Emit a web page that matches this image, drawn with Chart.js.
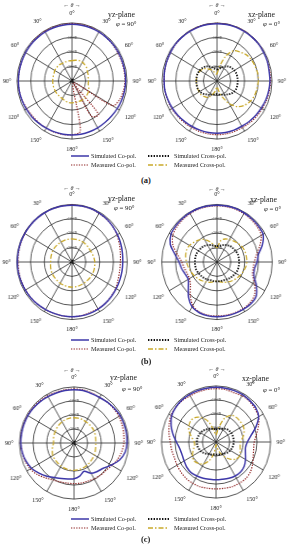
<!DOCTYPE html>
<html lang="en">
<head>
<meta charset="UTF-8" />
<title>Radiation patterns</title>
<script src="https://cdn.jsdelivr.net/npm/chart.js"></script>
<style>
  body { margin: 0; width: 296px; height: 550px; background: #fff; position: relative; overflow: hidden;
         font-family: 'Liberation Serif', 'Times New Roman', serif; color: #222; }
  canvas { position: absolute; }
  .t { position: absolute; white-space: nowrap; line-height: 1; }
  .arr { font-size: 6px; transform: translateX(-50%); }
  .pl { font-size: 7.8px; }
  .phi { font-size: 6.8px; }
  .lg { font-size: 6.2px; }
  .cap { font-size: 8.5px; font-weight: bold; }
  svg { position: absolute; }
</style>
</head>
<body>
<canvas id="aYz" width="150" height="150"></canvas>
<canvas id="aXz" width="150" height="150"></canvas>
<canvas id="bYz" width="150" height="150"></canvas>
<canvas id="bXz" width="150" height="150"></canvas>
<canvas id="cYz" width="148" height="148"></canvas>
<canvas id="cXz" width="148" height="148"></canvas>

<script>
// theta every 10 deg, clockwise from the top (0 deg)
const thetaLabels = ['0°','','','30°','','','60°','','','90°','','','120°','','','150°','','',
                     '180°','','','150°','','','120°','','','90°','','','60°','','','30°','',''];
const seriesNames = ['Simulated Co-pol.', 'Measured Co-pol.', 'Simulated Cross-pol.', 'Measured Cross-pol.'];
const dbTicks = [-40, -30, -20, -10, 0];

// (a)
const aYzSimCo = [-1,-1,-1,-1,-1,-1,-1,-1,-1,-1,-1.2,-1.5,-2,-2.5,-2.7,-2.8,-2.8,-2.8,-2.8,-2.8,-2.7,-2.5,-2.2,-1.8,-1.5,-1.2,-1,-1,-1,-1,-1,-1,-1,-1,-1,-1];
const aYzMeaCo = [-0.5,-0.5,-0.5,-1,-1,-1.2,-1.5,-1.5,-1.5,-1.5,-2,-3,-6,-38,-10,-12,-38,-5,-3,-2.5,-2.5,-2.5,-2.5,-2.5,-2,-1.5,-1,-1,-1,-1,-1,-0.8,-0.5,-0.5,-0.5,-0.5];
const aYzSimX  = [-39,-39,-39,-39,-39,-39,-39,-39,-39,-39,-39,-39,-39,-39,-39,-39,-39,-39,-39,-39,-39,-39,-39,-39,-39,-39,-39,-39,-39,-39,-39,-39,-39,-39,-39,-39];
const aYzMeaX  = [-26,-25.5,-25,-25,-25.5,-26,-27,-27.5,-28,-28,-28,-27,-26,-25.5,-25,-25,-25,-25,-25,-25,-25.5,-26,-26,-26,-26,-26,-26,-26,-26,-26,-25.5,-25.5,-25.5,-26,-26,-26];
const aXzSimCo = [-0.5,-0.5,-0.5,-0.5,-0.5,-0.5,-0.8,-1,-1.5,-1.5,-1.8,-2.2,-2.8,-3.2,-3.6,-4,-4,-4,-4,-4,-4,-3.8,-3.5,-3,-2.5,-2,-1.5,-1.5,-1.2,-1,-0.8,-0.5,-0.5,-0.5,-0.5,-0.5];
const aXzMeaCo = [-0.3,-0.3,-0.3,-0.3,-0.5,-0.5,-0.7,-1,-1,-1,-1.3,-1.6,-2,-2.3,-2.6,-3,-3,-3,-3,-3,-3,-3,-2.8,-2.5,-2,-1.8,-1.5,-1.5,-1.3,-1.1,-1,-0.7,-0.5,-0.4,-0.3,-0.3];
const aXzSimX  = [-32,-31.5,-30,-28.5,-27,-26,-25.5,-25,-25,-25,-25,-25,-25.5,-26.5,-28,-29,-30,-30.5,-31,-30.5,-30,-29,-28,-26.5,-25.5,-25,-25,-25,-25,-25,-25.5,-26,-27,-28.5,-30,-31.5];
const aXzMeaX  = [-35,-30,-22,-16,-14,-12,-11,-10.5,-10,-10,-10.5,-11,-12,-14,-17,-22,-28,-33,-36,-33,-30,-27,-26,-25,-25,-25,-25,-25,-25,-25,-26,-27,-29,-31,-33,-35];

// (b)
const bYzSimCo = [-0.5,-0.5,-0.5,-0.8,-1,-1.5,-2,-2.5,-3,-3.3,-3.3,-3.2,-3,-2.8,-2.5,-2.2,-2,-2,-2,-2,-2,-1.8,-1.5,-1.2,-1,-0.8,-0.5,-0.5,-0.5,-0.5,-0.5,-0.5,-0.5,-0.5,-0.5,-0.5];
const bYzMeaCo = [-0.5,-0.5,-0.7,-1,-1.2,-1.5,-2.5,-3.5,-4.5,-5,-5,-4.5,-3.5,-3,-2.5,-2.5,-2.5,-2.2,-2,-2,-2,-1.8,-1.5,-1.3,-1.2,-1,-1,-1,-0.8,-0.7,-0.6,-0.5,-0.5,-0.5,-0.5,-0.5];
const bYzSimX  = [-39,-39,-39,-39,-39,-39,-39,-39,-39,-39,-39,-39,-39,-39,-39,-39,-39,-39,-39,-39,-39,-39,-39,-39,-39,-39,-39,-39,-39,-39,-39,-39,-39,-39,-39,-39];
const bYzMeaX  = [-24,-24,-24,-24,-24.2,-24.4,-24.5,-24.2,-23.8,-23.5,-23.3,-23.1,-23,-23,-23,-23,-22.8,-22.6,-22.5,-22.6,-22.8,-23,-23.2,-23.4,-23.5,-23.8,-24.2,-24.5,-24.4,-24.2,-24,-24,-24,-24,-24,-24];
const bXzSimCo = [-0.5,-0.5,-0.5,-0.7,-0.8,-1,-1.5,-5,-9.5,-11,-12.5,-11.5,-7,-3,-2,-2,-2,-2,-2,-2,-2.5,-4,-8,-13,-16,-15.5,-14,-12.5,-9,-4,-1.5,-1,-0.8,-0.6,-0.5,-0.5];
const bXzMeaCo = [-1,-1,-1,-1.2,-1.5,-2,-3,-7,-11,-13,-13.5,-12.5,-8.5,-4.5,-3,-2.5,-2.5,-2.5,-2.5,-2.5,-3,-5,-10,-15,-17,-17,-16,-14.5,-11,-6,-3,-2,-1.5,-1.2,-1,-1];
const bXzSimX  = [-29,-28.5,-27.5,-26.5,-25.5,-25,-24.5,-24,-24,-24,-24,-24,-24.5,-25,-25.5,-26,-26.5,-26.5,-26.5,-26.5,-26.5,-26,-25.5,-25,-24.5,-24,-24,-24,-24,-24,-24.5,-25,-25.5,-26.5,-27.5,-28.5];
const bXzMeaX  = [-30,-25,-23,-22,-21,-20,-19,-18.5,-18.5,-18.5,-19,-20,-21,-22,-23,-24,-25,-26,-27,-26,-25,-24,-23,-22,-21,-20,-19,-18,-17,-16.5,-17,-18.5,-20,-22,-25,-28];

// (c)
const cYzSimCo = [-2,-2,-2.5,-2.5,-2,-1.5,-1,-1,-1,-1.2,-2,-4.5,-8.5,-12,-13.5,-15,-18.5,-16,-14.5,-14,-13,-11.5,-9,-6.5,-4,-2.5,-1.5,-1,-1,-1,-1,-1.2,-1.5,-1.8,-2,-2];
const cYzMeaCo = [-1.5,-1.5,-2,-2.5,-2,-2,-2,-2.5,-3,-3.5,-4.5,-6,-8,-9.5,-10,-10.5,-11,-11,-11,-11,-10.5,-9.5,-7.5,-5,-3,-2,-1.5,-1,-0.8,-0.8,-0.8,-0.8,-1,-1.2,-1.5,-1.5];
const cYzSimX  = [-39,-39,-39,-39,-39,-39,-39,-39,-39,-39,-39,-39,-39,-39,-39,-39,-39,-39,-39,-39,-39,-39,-39,-39,-39,-39,-39,-39,-39,-39,-39,-39,-39,-39,-39,-39];
const cYzMeaX  = [-22,-22,-22.2,-22.5,-22.7,-22.8,-23,-23.4,-23.8,-24,-23.8,-23.4,-23,-22.5,-22,-21.5,-21,-20.7,-20.5,-20.6,-20.8,-21,-21.4,-21.7,-22,-23,-24,-25,-24.7,-24.3,-24,-23.5,-23,-22.5,-22.2,-22];
const cXzSimCo = [-1,-1,-1,-1,-1.5,-2,-4,-9,-14,-17,-18,-17,-15,-13,-12,-12,-12.5,-13,-13,-13,-12.5,-12,-11.5,-12,-13,-13.5,-13,-11,-8,-5,-2.5,-1.5,-1,-1,-1,-1];
const cXzMeaCo = [-2,-2,-2.5,-2,-2,-3,-4,-7,-10,-12,-12,-11,-9,-7,-6,-6,-6,-6.5,-6.5,-6.5,-6,-6,-6,-6.5,-7,-7.5,-7,-6.5,-5,-3.5,-2,-1.5,-1.5,-2,-2,-2];
const cXzSimX  = [-31,-30.5,-30,-29,-28,-27.5,-27,-27,-27,-27,-27.2,-27.5,-28,-28.5,-29.5,-30,-30.5,-31,-31,-31,-30.5,-30,-29,-28,-27,-26.5,-26,-26,-26,-26.5,-27,-27.5,-28.5,-29,-30,-30.5];
const cXzMeaX  = [-35,-30,-22,-18,-17,-17,-17,-18,-20,-22,-22,-21,-20,-21,-24,-28,-32,-36,-38,-32,-26,-22,-20,-19,-20,-22,-24,-24,-22,-19,-17,-16,-17,-20,-25,-32];

const BLUE = '#3d37a8', RED = '#8e2222', BLACK = '#111', OLIVE = '#c9a92a';
const SERIF = "'Liberation Serif', 'Times New Roman', serif";
const styles = [
  { borderColor: BLUE,  borderWidth: 1.5, borderDash: [] },
  { borderColor: RED,   borderWidth: 1.2, borderDash: [1.3, 1.3] },
  { borderColor: BLACK, borderWidth: 1.9, borderDash: [1.4, 1.4] },
  { borderColor: OLIVE, borderWidth: 1.3, borderDash: [5, 2, 1.5, 2] }
];

// the printed figure is a bit squeezed sideways, sx is that squeeze
function polar(id, cx, cy, pad, sx, series) {
  const el = document.getElementById(id);
  const w = el.width * sx;
  el.style.width = w + 'px';
  el.style.height = el.height + 'px';
  el.style.left = (cx - w / 2) + 'px';
  el.style.top = (cy - el.height / 2) + 'px';
  new Chart(el, {
    type: 'radar',
    data: {
      labels: thetaLabels,
      datasets: series.map((d, i) => Object.assign({ label: seriesNames[i], data: d, fill: false }, styles[i]))
    },
    options: {
      responsive: false,
      animation: false,
      layout: { padding: pad },
      elements: { point: { radius: 0, hoverRadius: 0 }, line: { tension: 0.3 } },
      plugins: { legend: { display: false }, tooltip: { enabled: false } },
      scales: {
        r: {
          min: dbTicks[0], max: dbTicks[dbTicks.length - 1],
          ticks: {
            stepSize: 10, showLabelBackdrop: false, color: '#555',
            font: { family: SERIF, size: 4.5 },
            callback: v => (v === 0 || v === -40) ? '' : v + 'dB'
          },
          grid: { circular: true, color: '#2a2a2a', lineWidth: 0.8 },
          angleLines: { color: '#2a2a2a', lineWidth: c => c.index % 3 === 0 ? 0.8 : 0 },
          pointLabels: { padding: 2, color: '#222', font: { family: SERIF, size: 6.2 } }
        }
      }
    }
  });
}

polar('aYz', 72, 81, 2, 0.95, [aYzSimCo, aYzMeaCo, aYzSimX, aYzMeaX]);
polar('aXz', 217, 81, 2, 0.95, [aXzSimCo, aXzMeaCo, aXzSimX, aXzMeaX]);
polar('bYz', 72, 262, 2.5, 0.96, [bYzSimCo, bYzMeaCo, bYzSimX, bYzMeaX]);
polar('bXz', 217, 262, 2.5, 0.96, [bXzSimCo, bXzMeaCo, bXzSimX, bXzMeaX]);
polar('cYz', 74, 443, 3, 0.97, [cYzSimCo, cYzMeaCo, cYzSimX, cYzMeaX]);
polar('cXz', 216, 442, 3, 0.97, [cXzSimCo, cXzMeaCo, cXzSimX, cXzMeaX]);

// text around the plots
function txt(cls, x, y, html) {
  const d = document.createElement('div');
  d.className = 't ' + cls;
  d.style.left = x + 'px';
  d.style.top = y + 'px';
  d.innerHTML = html;
  document.body.appendChild(d);
}
const arrows = '&larr;&thinsp;<i>&theta;</i>&thinsp;&rarr;';
const rows = [
  { th: [2, 2],     pl: [[108, 11], [248, 11]],   ph: [[116, 21], [263, 21]],   lg: 156, cap: ['(a)', 176] },
  { th: [185, 186], pl: [[108, 195], [250, 196]], ph: [[114, 205], [264, 206]], lg: 340, cap: ['(b)', 357] },
  { th: [367, 366], pl: [[110, 374], [242, 375]], ph: [[122, 386], [263, 387]], lg: 519, cap: ['(c)', 535] }
];
rows.forEach(r => {
  txt('arr', 72, r.th[0], arrows);
  txt('arr', 217, r.th[1], arrows);
  txt('pl', r.pl[0][0], r.pl[0][1], 'yz-plane');
  txt('pl', r.pl[1][0], r.pl[1][1], 'xz-plane');
  txt('phi', r.ph[0][0], r.ph[0][1], '<i>&phi;</i> = 90°');
  txt('phi', r.ph[1][0], r.ph[1][1], '<i>&phi;</i> = 0°');
  txt('cap', 141, r.cap[1], r.cap[0]);
  // legend: 2 x 2
  const spots = [[71, 18, 91, r.lg], [71, 18, 91, r.lg + 9], [148, 21, 174, r.lg], [148, 21, 174, r.lg + 9]];
  spots.forEach(([lx, lw, tx, ly], i) => {
    const s = styles[i];
    const svg = document.createElementNS('http://www.w3.org/2000/svg', 'svg');
    svg.setAttribute('width', lw);
    svg.setAttribute('height', 4);
    svg.style.left = lx + 'px';
    svg.style.top = (ly - 2) + 'px';
    svg.innerHTML = '<line x1="0" y1="2" x2="' + lw + '" y2="2" stroke="' + s.borderColor + '" stroke-width="' +
      s.borderWidth + '" stroke-dasharray="' + (s.borderDash.join(' ') || 'none') + '"/>';
    document.body.appendChild(svg);
    txt('lg', tx, ly - 3, seriesNames[i]);
  });
});
</script>
</body>
</html>
